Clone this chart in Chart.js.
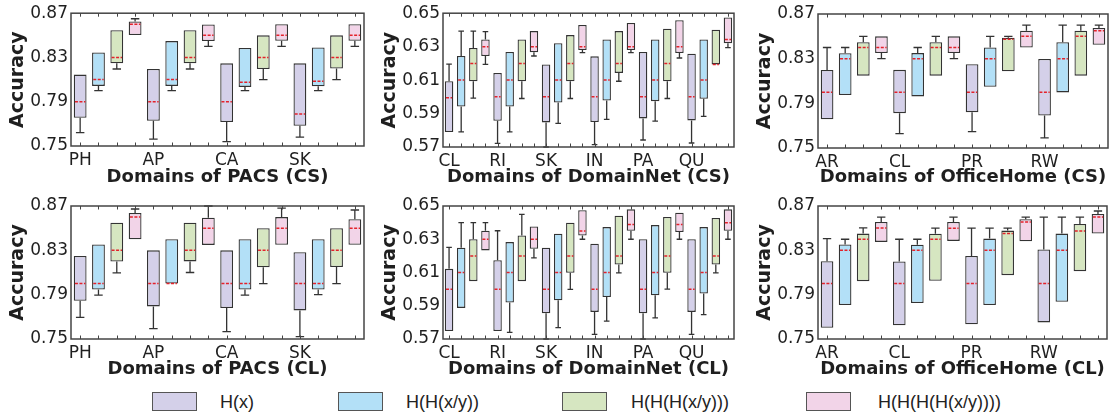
<!DOCTYPE html>
<html>
<head>
<meta charset="utf-8">
<script src="https://cdn.jsdelivr.net/npm/chart.js@4.4.1/dist/chart.umd.min.js"></script>
<style>
    body { margin: 0; background: #fff; width: 1114px; height: 420px; position: relative; overflow: hidden; }
    .panel { position: absolute; }
    .legend-box { position: absolute; width: 45px; height: 19px; border: 1px solid #555; box-sizing: border-box; }
    .legend-text { position: absolute; font: 18px "Liberation Sans", Arial, sans-serif; color: #222; line-height: 20px; }
</style>
</head>
<body>
<div class="panel" style="left:0;top:0;width:372px;height:192px"><canvas id="pacsCS"></canvas></div>
<div class="panel" style="left:372px;top:0;width:370px;height:192px"><canvas id="dnCS"></canvas></div>
<div class="panel" style="left:747px;top:0;width:367px;height:192px"><canvas id="ohCS"></canvas></div>
<div class="panel" style="left:0;top:190px;width:372px;height:192px"><canvas id="pacsCL"></canvas></div>
<div class="panel" style="left:372px;top:190px;width:370px;height:192px"><canvas id="dnCL"></canvas></div>
<div class="panel" style="left:747px;top:190px;width:367px;height:192px"><canvas id="ohCL"></canvas></div>

<div class="legend-box" style="left:152px;top:392px;background:#d4d0e9"></div>
<div class="legend-text" style="left:220px;top:392px">H(x)</div>
<div class="legend-box" style="left:338px;top:392px;background:#b3e0f7"></div>
<div class="legend-text" style="left:406px;top:392px">H(H(x/y))</div>
<div class="legend-box" style="left:562px;top:392px;background:#d6e6c1"></div>
<div class="legend-text" style="left:631px;top:392px">H(H(H(x/y)))</div>
<div class="legend-box" style="left:806px;top:392px;background:#f2d4e8"></div>
<div class="legend-text" style="left:878px;top:392px">H(H(H(H(x/y))))</div>

<script>
// each row: [min, q1, median, q3, max] for one domain
const methods = ['H(x)', 'H(H(x/y))', 'H(H(H(x/y)))', 'H(H(H(H(x/y))))'];
const pacsDomains = ['PH', 'AP', 'CA', 'SK'];
const domainNetDomains = ['CL', 'RI', 'SK', 'IN', 'PA', 'QU'];
const officeHomeDomains = ['AR', 'CL', 'PR', 'RW'];
const pacsTicks = [0.75, 0.79, 0.83, 0.87];
const domainNetTicks = [0.57, 0.59, 0.61, 0.63, 0.65];
const officeHomeTicks = [0.75, 0.79, 0.83, 0.87];

// PACS (CS)
const pacsCS_h1 = [[0.762, 0.7755, 0.79, 0.8145, 0.8145], [0.7563, 0.7728, 0.79, 0.8196, 0.8196], [0.754, 0.7716, 0.79, 0.8247, 0.8247], [0.758, 0.7683, 0.779, 0.8247, 0.8247]];
const pacsCS_h2 = [[0.80, 0.8043, 0.81, 0.8346, 0.8346], [0.80, 0.8043, 0.81, 0.8448, 0.8448], [0.80, 0.8034, 0.8076, 0.8385, 0.8385], [0.80, 0.804, 0.8085, 0.839, 0.839]];
const pacsCS_h3 = [[0.8196, 0.8247, 0.83, 0.8547, 0.8547], [0.8196, 0.8247, 0.83, 0.8547, 0.8547], [0.81, 0.8196, 0.83, 0.85, 0.85], [0.81, 0.82, 0.83, 0.85, 0.85]];
const pacsCS_h4 = [[0.8502, 0.8502, 0.86, 0.8625, 0.865], [0.84, 0.8448, 0.85, 0.8598, 0.8598], [0.84, 0.845, 0.85, 0.86, 0.86], [0.84, 0.845, 0.85, 0.86, 0.86]];

// DomainNet (CS)
const dnCS_h1 = [[0.579, 0.579, 0.5994, 0.6093, 0.6196], [0.5722, 0.5857, 0.60, 0.6143, 0.6143], [0.57, 0.5847, 0.60, 0.6194, 0.6194], [0.5714, 0.5849, 0.60, 0.6242, 0.6242], [0.5742, 0.5871, 0.60, 0.6268, 0.6268], [0.5724, 0.5859, 0.60, 0.6258, 0.6258]];
const dnCS_h2 = [[0.579, 0.5942, 0.61, 0.6244, 0.6393], [0.579, 0.5942, 0.61, 0.6268, 0.6268], [0.5841, 0.5966, 0.61, 0.632, 0.632], [0.5865, 0.5978, 0.61, 0.6343, 0.6343], [0.5855, 0.5974, 0.61, 0.6343, 0.6343], [0.5883, 0.5988, 0.61, 0.6343, 0.6343]];
const dnCS_h3 = [[0.5992, 0.6093, 0.62, 0.6292, 0.6393], [0.599, 0.6093, 0.62, 0.6343, 0.6343], [0.599, 0.6093, 0.62, 0.6369, 0.6369], [0.6093, 0.6143, 0.62, 0.6393, 0.6393], [0.599, 0.6093, 0.62, 0.6407, 0.6407], [0.6194, 0.6194, 0.6194, 0.6401, 0.6401]];
const dnCS_h4 = [[0.6194, 0.6244, 0.63, 0.6343, 0.639], [0.6244, 0.6266, 0.63, 0.6393, 0.6393], [0.6264, 0.628, 0.63, 0.6429, 0.6429], [0.6264, 0.628, 0.63, 0.6442, 0.6442], [0.6232, 0.6262, 0.63, 0.6458, 0.6458], [0.6294, 0.632, 0.6343, 0.6474, 0.6474]];

// OfficeHome (CS)
const ohCS_h1 = [[0.7758, 0.7758, 0.80, 0.8199, 0.84], [0.7629, 0.7812, 0.80, 0.82, 0.82], [0.7647, 0.7821, 0.80, 0.825, 0.825], [0.759, 0.7791, 0.80, 0.8298, 0.8298]];
const ohCS_h2 = [[0.7974, 0.7974, 0.83, 0.8349, 0.84], [0.7962, 0.7962, 0.83, 0.835, 0.84], [0.8049, 0.8049, 0.83, 0.84, 0.85], [0.7998, 0.7998, 0.83, 0.8448, 0.86]];
const ohCS_h3 = [[0.8148, 0.8148, 0.84, 0.8448, 0.85], [0.8148, 0.8148, 0.84, 0.8448, 0.85], [0.8187, 0.8187, 0.8475, 0.8487, 0.85], [0.8148, 0.8148, 0.85, 0.855, 0.86]];
const ohCS_h4 = [[0.83, 0.835, 0.84, 0.85, 0.85], [0.83, 0.835, 0.84, 0.85, 0.85], [0.84, 0.84, 0.85, 0.855, 0.86], [0.8424, 0.8424, 0.855, 0.8574, 0.86]];

// PACS (CL)
const pacsCL_h1 = [[0.7695, 0.7845, 0.80, 0.825, 0.825], [0.7593, 0.7794, 0.80, 0.83, 0.83], [0.7566, 0.7779, 0.80, 0.83, 0.83], [0.7521, 0.7758, 0.80, 0.8283, 0.8283]];
const pacsCL_h2 = [[0.7896, 0.7947, 0.80, 0.8352, 0.8352], [0.80, 0.80, 0.80, 0.84, 0.84], [0.7896, 0.7947, 0.80, 0.84, 0.84], [0.79, 0.7947, 0.80, 0.84, 0.84]];
const pacsCL_h3 = [[0.8097, 0.8199, 0.83, 0.855, 0.855], [0.81, 0.82, 0.83, 0.855, 0.855], [0.80, 0.8148, 0.83, 0.85, 0.85], [0.80, 0.815, 0.83, 0.85, 0.85]];
const pacsCL_h4 = [[0.84, 0.84, 0.86, 0.8637, 0.8673], [0.8349, 0.8349, 0.85, 0.8595, 0.87], [0.835, 0.835, 0.85, 0.86, 0.868], [0.835, 0.835, 0.85, 0.858, 0.8664]];

// DomainNet (CL)
const dnCL_h1 = [[0.5748, 0.5748, 0.60, 0.6122, 0.6251], [0.5748, 0.5748, 0.60, 0.6174, 0.6351], [0.57, 0.5855, 0.60, 0.6249, 0.6249], [0.5728, 0.5863, 0.60, 0.6273, 0.6273], [0.57, 0.5855, 0.60, 0.63, 0.63], [0.5728, 0.5863, 0.60, 0.63, 0.63]];
const dnCL_h2 = [[0.5887, 0.5887, 0.61, 0.6249, 0.64], [0.574, 0.5919, 0.61, 0.6283, 0.6283], [0.5768, 0.5933, 0.61, 0.6333, 0.6333], [0.5807, 0.5953, 0.61, 0.6373, 0.6373], [0.5827, 0.5963, 0.61, 0.6385, 0.6385], [0.5847, 0.5973, 0.61, 0.6373, 0.6373]];
const dnCL_h3 = [[0.6048, 0.6048, 0.62, 0.63, 0.64], [0.6048, 0.6048, 0.62, 0.6323, 0.645], [0.5999, 0.6098, 0.62, 0.64, 0.64], [0.6098, 0.6148, 0.62, 0.6442, 0.6442], [0.60, 0.6098, 0.62, 0.6434, 0.6434], [0.6098, 0.6148, 0.62, 0.6428, 0.6428]];
const dnCL_h4 = [[0.6233, 0.6233, 0.63, 0.6351, 0.64], [0.6188, 0.6243, 0.63, 0.6377, 0.6377], [0.63, 0.6323, 0.635, 0.6474, 0.6474], [0.63, 0.6351, 0.6389, 0.648, 0.648], [0.63, 0.6343, 0.6389, 0.646, 0.646], [0.63, 0.6351, 0.64, 0.648, 0.648]];

// OfficeHome (CL)
const ohCL_h1 = [[0.7602, 0.7602, 0.80, 0.8202, 0.8406], [0.7623, 0.7623, 0.80, 0.82, 0.84], [0.7632, 0.7632, 0.80, 0.825, 0.85], [0.765, 0.765, 0.80, 0.8307, 0.86]];
const ohCL_h2 = [[0.7806, 0.7806, 0.83, 0.8352, 0.84], [0.7824, 0.7824, 0.83, 0.835, 0.84], [0.7806, 0.7806, 0.83, 0.8406, 0.85], [0.7836, 0.7836, 0.83, 0.8451, 0.86]];
const ohCL_h3 = [[0.8022, 0.8022, 0.84, 0.8451, 0.8502], [0.8025, 0.8025, 0.84, 0.845, 0.85], [0.8076, 0.8076, 0.8451, 0.8478, 0.85], [0.8112, 0.8112, 0.8475, 0.8538, 0.86]];
const ohCL_h4 = [[0.8376, 0.8376, 0.8502, 0.8556, 0.86], [0.8385, 0.8385, 0.85, 0.8556, 0.86], [0.8382, 0.8382, 0.8556, 0.858, 0.86], [0.8451, 0.8451, 0.86, 0.8628, 0.8655]];

const fillColors = ['#d4d0e9', '#b3e0f7', '#d6e6c1', '#f2d4e8'];
const FONT = 'DejaVu Sans';

// whiskers + dashed red medians, drawn on top of the floating bars
const boxExtras = {
    id: 'boxExtras',
    afterDatasetsDraw(chart) {
        const ctx = chart.ctx;
        const y = chart.scales.y;
        chart.data.datasets.forEach((ds, di) => {
            const meta = chart.getDatasetMeta(di);
            meta.data.forEach((bar, i) => {
                const s = ds.stats[i];
                if (!s) return;
                const [lo, q1, med, q3, hi] = s;
                const x = bar.x;
                const half = bar.width / 2;
                const cap = bar.width * 0.33;
                ctx.save();
                ctx.strokeStyle = '#333';
                ctx.lineWidth = 1.3;
                [[q1, lo], [q3, hi]].forEach(([a, b]) => {
                    if (Math.abs(a - b) < 1e-6) return;
                    const ya = y.getPixelForValue(a);
                    const yb = y.getPixelForValue(b);
                    ctx.beginPath();
                    ctx.moveTo(x, ya);
                    ctx.lineTo(x, yb);
                    ctx.moveTo(x - cap, yb);
                    ctx.lineTo(x + cap, yb);
                    ctx.stroke();
                });
                const ym = y.getPixelForValue(med);
                ctx.strokeStyle = '#e3222b';
                ctx.lineWidth = 1.5;
                ctx.setLineDash([3, 1.5]);
                ctx.beginPath();
                ctx.moveTo(x - half + 1.2, ym);
                ctx.lineTo(x + half - 1.2, ym);
                ctx.stroke();
                ctx.restore();
            });
        });
    }
};

const frame = {
    id: 'frame',
    afterDraw(chart) {
        const { ctx, chartArea: a } = chart;
        const xs = chart.scales.x;
        ctx.save();
        ctx.strokeStyle = '#444';
        ctx.lineWidth = 1.5;
        ctx.strokeRect(a.left, a.top, a.right - a.left, a.bottom - a.top);
        ctx.lineWidth = 1;
        ctx.beginPath();
        chart.data.labels.forEach((_, i) => {
            const px = Math.round(xs.getPixelForValue(i)) + 0.5;
            ctx.moveTo(px, a.bottom);
            ctx.lineTo(px, a.bottom - 3.5);
            ctx.moveTo(px, a.top);
            ctx.lineTo(px, a.top + 3.5);
        });
        ctx.stroke();
        ctx.restore();
    }
};

function buildLabels(domains) {
    const labels = [];
    domains.forEach((d) => labels.push(d, '', '', ''));
    return labels;
}

function makePanel(id, domains, series, yMin, yMax, yTicks, xTitle, layout) {
    const labels = buildLabels(domains);
    const datasets = series.map((rows, m) => {
        const stats = labels.map((_, i) => (i % 4 === m ? rows[Math.floor(i / 4)] : null));
        return {
            label: methods[m],
            data: stats.map((s) => (s ? [s[1], s[3]] : null)),
            stats,
            backgroundColor: fillColors[m],
            borderColor: '#333',
            borderWidth: 1.3,
            borderSkipped: false,
            grouped: false,
            barPercentage: 0.7,
            categoryPercentage: 1
        };
    });

    new Chart(document.getElementById(id), {
        type: 'bar',
        data: { labels, datasets },
        options: {
            responsive: true,
            maintainAspectRatio: false,
            animation: false,
            layout: { padding: { top: layout.top, right: layout.right, left: 0, bottom: 0 } },
            plugins: { legend: { display: false }, tooltip: { enabled: false } },
            scales: {
                x: {
                    type: 'category',
                    offset: true,
                    grid: { display: false, drawTicks: false },
                    border: { display: false },
                    ticks: {
                        autoSkip: false, maxRotation: 0, padding: 4, color: '#1f1f1f',
                        font: { family: FONT, size: 17 }
                    },
                    title: {
                        display: true, text: xTitle, color: '#1f1f1f',
                        font: { family: FONT, size: 18, weight: 'bold' },
                        padding: { top: 0, bottom: layout.titlePad }
                    },
                    afterFit: (s) => { s.height = layout.xh; }
                },
                y: {
                    min: yMin,
                    max: yMax,
                    grid: { display: false, drawTicks: false },
                    border: { display: false },
                    afterBuildTicks: (s) => { s.ticks = yTicks.map((v) => ({ value: v })); },
                    ticks: {
                        padding: 3, color: '#1f1f1f',
                        font: { family: FONT, size: 17 },
                        callback: (v) => Number(v).toFixed(2)
                    },
                    title: {
                        display: true, text: 'Accuracy', color: '#1f1f1f',
                        font: { family: FONT, size: 19, weight: 'bold' },
                        padding: { top: 7, bottom: 0 }
                    },
                    afterFit: (s) => { s.width = 71; }
                }
            }
        },
        plugins: [boxExtras, frame]
    });
}

const topRow = { top: 12, right: 8, xh: 46, titlePad: 4 };
const bottomRow = { top: 16, right: 8, xh: 43, titlePad: 2 };

makePanel('pacsCS', pacsDomains, [pacsCS_h1, pacsCS_h2, pacsCS_h3, pacsCS_h4], 0.75, 0.87, pacsTicks, 'Domains of PACS (CS)', topRow);
makePanel('dnCS', domainNetDomains, [dnCS_h1, dnCS_h2, dnCS_h3, dnCS_h4], 0.57, 0.65, domainNetTicks, 'Domains of DomainNet (CS)', { ...topRow, xh: 45 });
makePanel('ohCS', officeHomeDomains, [ohCS_h1, ohCS_h2, ohCS_h3, ohCS_h4], 0.75, 0.87, officeHomeTicks, 'Domains of OfficeHome (CS)', { ...topRow, top: 14, right: 6, xh: 44 });
makePanel('pacsCL', pacsDomains, [pacsCL_h1, pacsCL_h2, pacsCL_h3, pacsCL_h4], 0.75, 0.87, pacsTicks, 'Domains of PACS (CL)', bottomRow);
makePanel('dnCL', domainNetDomains, [dnCL_h1, dnCL_h2, dnCL_h3, dnCL_h4], 0.57, 0.65, domainNetTicks, 'Domains of DomainNet (CL)', bottomRow);
makePanel('ohCL', officeHomeDomains, [ohCL_h1, ohCL_h2, ohCL_h3, ohCL_h4], 0.75, 0.87, officeHomeTicks, 'Domains of OfficeHome (CL)', { ...bottomRow, right: 7 });
</script>
</body>
</html>
